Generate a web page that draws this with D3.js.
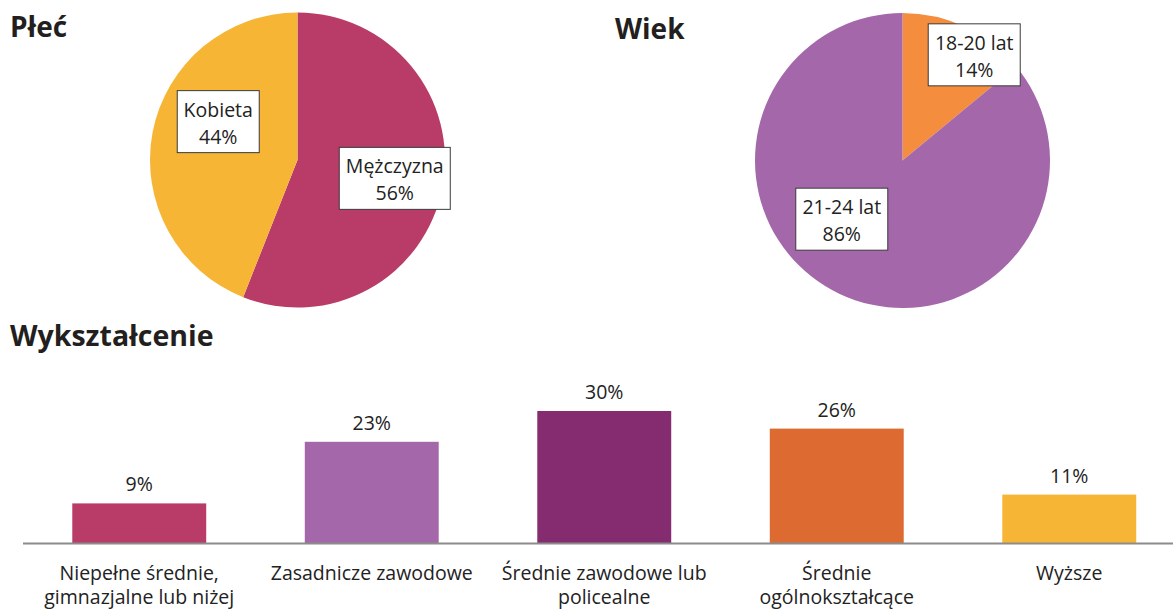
<!DOCTYPE html>
<html>
<head>
<meta charset="utf-8">
<title>Płeć, Wiek, Wykształcenie</title>
<script src="https://d3js.org/d3.v7.min.js"></script>
<style>
  body { margin: 0; background: #fff; }
  svg { display: block; font-family: "Open Sans", sans-serif; }
  .title { font-weight: bold; fill: #231f20; }
  .lbl { fill: #222; }
</style>
</head>
<body>
<div id="chart"></div>
<script>
// ---- data ----
const genderLabels = ["Mężczyzna", "Kobieta"];
const genderValues = [56, 44];
const genderColors = ["#b93b67", "#f7b535"];

const ageLabels = ["18-20 lat", "21-24 lat"];
const ageValues = [14, 86];
const ageColors = ["#f48d3d", "#a468aa"];

const eduLabels = [
  ["Niepełne średnie,", "gimnazjalne lub niżej"],
  ["Zasadnicze zawodowe"],
  ["Średnie zawodowe lub", "policealne"],
  ["Średnie", "ogólnokształcące"],
  ["Wyższe"]
];
const eduValues = [9, 23, 30, 26, 11];
const eduColors = ["#b93b67", "#a468aa", "#842c6f", "#dd6a30", "#f7b535"];

// ---- layout ----
const W = 1173, H = 612;
const svg = d3.select("#chart").append("svg")
  .attr("width", W)
  .attr("height", H);

const fontSize = 19.5;

// titles
svg.append("text").attr("class", "title").attr("x", 10).attr("y", 37)
  .style("font-size", "28px").text("Płeć");
svg.append("text").attr("class", "title").attr("x", 615).attr("y", 39)
  .style("font-size", "28px").text("Wiek");
svg.append("text").attr("class", "title").attr("x", 10).attr("y", 346)
  .style("font-size", "28.5px").text("Wykształcenie");

// pie helper
function drawPie(cx, cy, r, labels, values, colors, nudges) {
  const g = svg.append("g").attr("transform", `translate(${cx},${cy})`);
  const pie = d3.pie().sort(null).value(d => d);
  const arcs = pie(values);
  const arc = d3.arc().innerRadius(0).outerRadius(r);
  const labelArc = d3.arc().innerRadius(98).outerRadius(98);

  g.selectAll("path")
    .data(arcs)
    .enter()
    .append("path")
    .attr("d", arc)
    .attr("fill", (d, i) => colors[i]);

  arcs.forEach((d, i) => {
    const c = labelArc.centroid(d);
    const lx = c[0] + nudges[i][0], ly = c[1] + nudges[i][1];
    const lg = g.append("g").attr("transform", `translate(${lx},${ly})`);
    const rect = lg.append("rect")
      .attr("fill", "#fff")
      .attr("stroke", "#3a3a3a")
      .attr("stroke-width", 1);
    const t = lg.append("text")
      .attr("class", "lbl")
      .attr("text-anchor", "middle")
      .style("font-size", fontSize + "px");
    t.append("tspan").attr("x", 0).attr("y", -5).text(labels[i]);
    t.append("tspan").attr("x", 0).attr("y", 22).text(values[i] + "%");
    const bb = t.node().getBBox();
    const bw = Math.round(bb.width + 13), bh = 62;
    rect.attr("x", -bw / 2).attr("y", -bh / 2).attr("width", bw).attr("height", bh);
  });
}

drawPie(297.5, 160, 147.5, genderLabels, genderValues, genderColors,
  [[1, 0], [17, -20]]);
drawPie(902.5, 160.5, 147.5, ageLabels, ageValues, ageColors,
  [[30, -17], [-19, -30]]);

// ---- bar chart ----
const baseY = 543;
const x = d3.scaleBand()
  .domain(d3.range(eduValues.length))
  .range([23, 1185.5])
  .paddingInner(0.424)
  .paddingOuter(0.212);

const y = d3.scaleLinear()
  .domain([0, 30])
  .range([baseY, 411]);

const bars = svg.append("g");
bars.selectAll("rect")
  .data(eduValues)
  .enter()
  .append("rect")
  .attr("x", (d, i) => x(i))
  .attr("y", d => y(d))
  .attr("width", x.bandwidth())
  .attr("height", d => baseY - y(d))
  .attr("fill", (d, i) => eduColors[i]);

bars.selectAll(".val")
  .data(eduValues)
  .enter()
  .append("text")
  .attr("class", "lbl val")
  .attr("text-anchor", "middle")
  .style("font-size", fontSize + "px")
  .attr("x", (d, i) => x(i) + x.bandwidth() / 2)
  .attr("y", d => y(d) - 12)
  .text(d => d + "%");

// axis line
svg.append("line")
  .attr("x1", 23).attr("x2", W)
  .attr("y1", baseY + 0.5).attr("y2", baseY + 0.5)
  .attr("stroke", "#8c8c8c")
  .attr("stroke-width", 2);

// category labels
const cat = svg.append("g").selectAll("text")
  .data(eduLabels)
  .enter()
  .append("text")
  .attr("class", "lbl")
  .attr("text-anchor", "middle")
  .style("font-size", fontSize + "px");
cat.each(function(lines, i) {
  const t = d3.select(this);
  lines.forEach((s, k) => {
    t.append("tspan")
      .attr("x", x(i) + x.bandwidth() / 2)
      .attr("y", 580 + k * 24)
      .text(s);
  });
});
</script>
</body>
</html>
